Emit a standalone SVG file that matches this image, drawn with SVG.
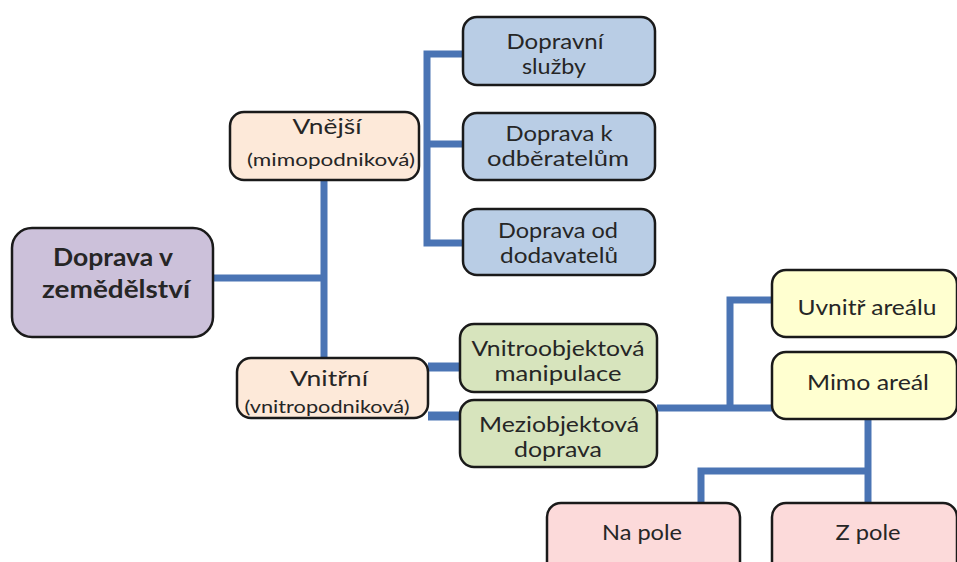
<svg xmlns="http://www.w3.org/2000/svg" width="957" height="562" viewBox="0 0 957 562">
<style>
.box{stroke:#1a1a1a;stroke-width:2.5}
.root{fill:#ccc1da}
.peach{fill:#fde9d9}
.blue{fill:#b9cde5}
.green{fill:#d7e4bd}
.yellow{fill:#ffffd0}
.pink{fill:#fcdada}
.t{font-family:Lato,"Open Sans","Liberation Sans",sans-serif;fill:#262626;text-anchor:middle;font-size:20.5px}
.c{fill:none;stroke:#4a74b4;stroke-width:7;stroke-linejoin:miter;stroke-linecap:butt}
</style>
<rect width="957" height="562" fill="#ffffff"/>
<g id="connectors">
<path class="c" d="M212,278 H324"/>
<path class="c" d="M324,180 V358"/>
<path class="c" d="M463,54 H427 V243 H463"/>
<path class="c" d="M427,144 H463"/>
<path class="c" d="M428,367 H460" style="stroke-width:9"/>
<path class="c" d="M428,416 H460" style="stroke-width:9"/>
<path class="c" d="M657,408 H772"/>
<path class="c" d="M772,300 H730 V408"/>
<path class="c" d="M868,419 V503"/>
<path class="c" d="M868,471 H701 V503"/>
</g>
<g id="root">
<rect class="box root" x="12" y="228" width="201" height="109" rx="20"/>
<text class="t" x="113" y="266" style="font-size:24px;font-weight:bold" textLength="120" lengthAdjust="spacingAndGlyphs">Doprava v</text>
<text class="t" x="116" y="298" style="font-size:24px;font-weight:bold" textLength="148" lengthAdjust="spacingAndGlyphs">zemědělství</text>
</g>
<g id="vnejsi">
<rect class="box peach" x="230" y="112" width="189" height="68" rx="14"/>
<text class="t" x="327" y="134" style="font-size:22px" textLength="69" lengthAdjust="spacingAndGlyphs">Vnější</text>
<text class="t" x="331" y="166" style="font-size:18px" textLength="168" lengthAdjust="spacingAndGlyphs">(mimopodniková)</text>
</g>
<g id="vnitrni">
<rect class="box peach" x="237" y="358" width="191" height="60" rx="14"/>
<text class="t" x="329" y="386" style="font-size:22px" textLength="78" lengthAdjust="spacingAndGlyphs">Vnitřní</text>
<text class="t" x="327" y="413" style="font-size:17.5px" textLength="165" lengthAdjust="spacingAndGlyphs">(vnitropodniková)</text>
</g>
<g id="dopravni-sluzby">
<rect class="box blue" x="463" y="17" width="192" height="68" rx="14"/>
<text class="t" x="555" y="49" textLength="97" lengthAdjust="spacingAndGlyphs">Dopravní</text>
<text class="t" x="554" y="74" textLength="64" lengthAdjust="spacingAndGlyphs">služby</text>
</g>
<g id="doprava-k-odberatelum">
<rect class="box blue" x="463" y="113" width="192" height="67" rx="14"/>
<text class="t" x="559" y="141" textLength="107" lengthAdjust="spacingAndGlyphs">Doprava k</text>
<text class="t" x="558" y="166" textLength="142" lengthAdjust="spacingAndGlyphs">odběratelům</text>
</g>
<g id="doprava-od-dodavatelu">
<rect class="box blue" x="463" y="209" width="192" height="66" rx="14"/>
<text class="t" x="558" y="238" textLength="120" lengthAdjust="spacingAndGlyphs">Doprava od</text>
<text class="t" x="559" y="263" textLength="118" lengthAdjust="spacingAndGlyphs">dodavatelů</text>
</g>
<g id="vnitroobjektova">
<rect class="box green" x="460" y="324" width="197" height="68" rx="14"/>
<text class="t" x="558" y="356" textLength="173" lengthAdjust="spacingAndGlyphs">Vnitroobjektová</text>
<text class="t" x="558" y="381" textLength="127" lengthAdjust="spacingAndGlyphs">manipulace</text>
</g>
<g id="meziobjektova">
<rect class="box green" x="460" y="400" width="197" height="67" rx="14"/>
<text class="t" x="559" y="432" textLength="160" lengthAdjust="spacingAndGlyphs">Meziobjektová</text>
<text class="t" x="558" y="457" textLength="88" lengthAdjust="spacingAndGlyphs">doprava</text>
</g>
<g id="uvnitr-arealu">
<rect class="box yellow" x="772" y="270" width="185" height="67" rx="14"/>
<text class="t" x="867" y="315" textLength="139" lengthAdjust="spacingAndGlyphs">Uvnitř areálu</text>
</g>
<g id="mimo-areal">
<rect class="box yellow" x="772" y="352" width="185" height="67" rx="14"/>
<text class="t" x="868" y="390" textLength="122" lengthAdjust="spacingAndGlyphs">Mimo areál</text>
</g>
<g id="na-pole">
<rect class="box pink" x="547" y="503" width="193" height="80" rx="14"/>
<text class="t" x="642" y="540" textLength="80" lengthAdjust="spacingAndGlyphs">Na pole</text>
</g>
<g id="z-pole">
<rect class="box pink" x="772" y="503" width="185" height="80" rx="14"/>
<text class="t" x="868" y="540" textLength="65" lengthAdjust="spacingAndGlyphs">Z pole</text>
</g>
</svg>
